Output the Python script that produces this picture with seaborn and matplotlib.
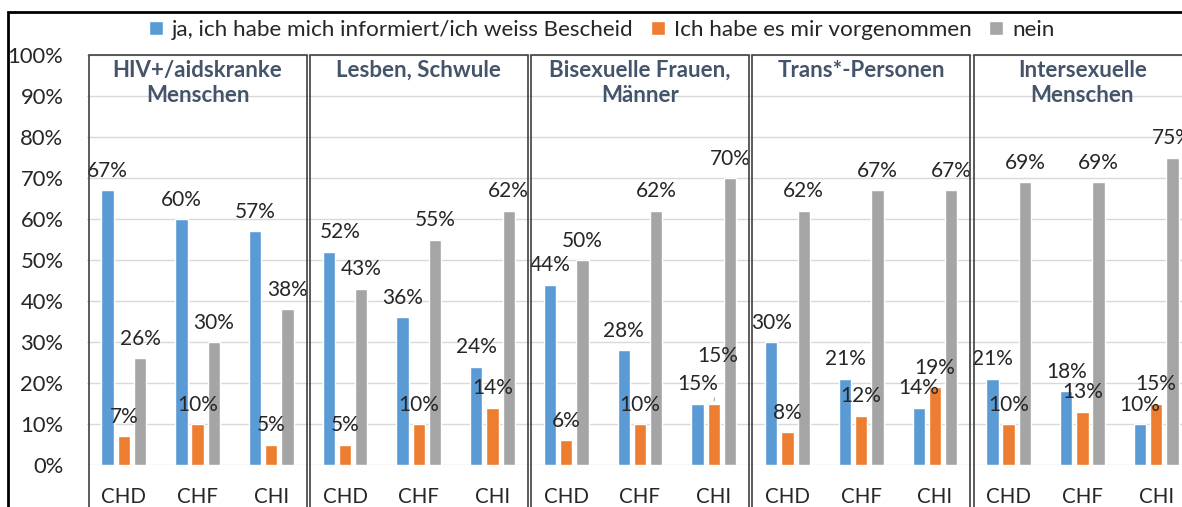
import matplotlib.pyplot as plt
import pandas as pd
import seaborn as sns
from matplotlib.patches import Rectangle

# --- data ---
groups = ["HIV+/aidskranke\nMenschen", "Lesben, Schwule", "Bisexuelle Frauen,\nMänner",
          "Trans*-Personen", "Intersexuelle\nMenschen"]
regions = ["CHD", "CHF", "CHI"]
series = ["ja, ich habe mich informiert/ich weiss Bescheid",
          "Ich habe es mir vorgenommen", "nein"]

ja = [67, 60, 57, 52, 36, 24, 44, 28, 15, 30, 21, 14, 21, 18, 10]
vorgenommen = [7, 10, 5, 5, 10, 14, 6, 10, 15, 8, 12, 19, 10, 13, 15]
nein = [26, 30, 38, 43, 55, 62, 50, 62, 70, 62, 67, 67, 69, 69, 75]

colors = ["#5B9BD5", "#ED7D31", "#A5A5A5"]

# long table for seaborn, unique key per category slot
keys = [f"{g}|{r}" for g in groups for r in regions]
rows = []
for name, vals in zip(series, [ja, vorgenommen, nein]):
    for k, v in zip(keys, vals):
        rows.append({"key": k, "Antwort": name, "value": v})
df = pd.DataFrame(rows)

sns.set_theme(style="white")
plt.rcParams["font.family"] = ["Lato", "DejaVu Sans"]
text_col = "#262626"

fig = plt.figure(figsize=(11.82, 5.07), dpi=100)
ax = fig.add_axes([0.0736, 0.0828, 0.9357, 0.8087])

sns.barplot(data=df, x="key", y="value", hue="Antwort", order=keys,
            hue_order=series, palette=colors, width=0.66, gap=0.24,
            saturation=1, ax=ax)

ax.set_ylim(0, 100)
ax.set_xlim(-0.5, len(keys) - 0.5)
ax.set_yticks(range(0, 101, 10))
ax.set_yticklabels([f"{t}%" for t in range(0, 101, 10)], fontsize=15.8, color=text_col)
ax.set_xticks(range(len(keys)))
ax.set_xticklabels(regions * len(groups), fontsize=14.8, color=text_col)
ax.tick_params(axis="y", length=0, pad=17)
ax.tick_params(axis="x", length=0, pad=16)
ax.set_xlabel("")
ax.set_ylabel("")
ax.yaxis.grid(True, color="#D9D9D9", lw=1)
ax.set_axisbelow(True)
for s in ax.spines.values():
    s.set_visible(False)

# data labels (a few moved like in the original)
nudges = {(0, 3): (8, 0), (1, 8): (3, 20)}
for si, cont in enumerate(ax.containers):
    for bi, bar in enumerate(cont):
        x = bar.get_x() + bar.get_width() / 2
        h = bar.get_height()
        dx, dy = nudges.get((si, bi), (0, 0))
        ax.annotate(f"{h:.0f}%", (x, h), xytext=(dx, 14 + dy),
                    textcoords="offset points", ha="center", va="center",
                    fontsize=15, color=text_col, annotation_clip=False)
        if dy:
            ax.annotate("", (x, h), xytext=(dx * 0.3, 6),
                        textcoords="offset points",
                        arrowprops=dict(arrowstyle="-", color="#A6A6A6", lw=0.8))

# group boxes and titles
trans = ax.get_xaxis_transform()
for gi, g in enumerate(groups):
    left = 3 * gi - 0.5 + 0.025
    ax.add_patch(Rectangle((left, -0.3), 3 - 0.045, 1.3, transform=trans,
                           fill=False, ec="#404040", lw=1.2, clip_on=False, zorder=5))
    ax.text(3 * gi + 1, 0.988, g, transform=trans, ha="center", va="top",
            fontsize=16, fontweight="bold", color="#44546A", linespacing=1.25)

sns.move_legend(ax, "center", bbox_to_anchor=(0.509, 0.941),
                bbox_transform=fig.transFigure, ncol=3, frameon=False, title=None,
                fontsize=16.2, handlelength=0.6, handleheight=0.6,
                handletextpad=0.4, columnspacing=0.8)
for t in ax.get_legend().get_texts():
    t.set_color(text_col)

# outer chart border (cut off at right and bottom)
fig.add_artist(Rectangle((8 / 1182, -0.1), 1.2, 1.1 - 12 / 507,
                         transform=fig.transFigure, fill=False, ec="black", lw=2))

fig.savefig("out.png", dpi=100)
